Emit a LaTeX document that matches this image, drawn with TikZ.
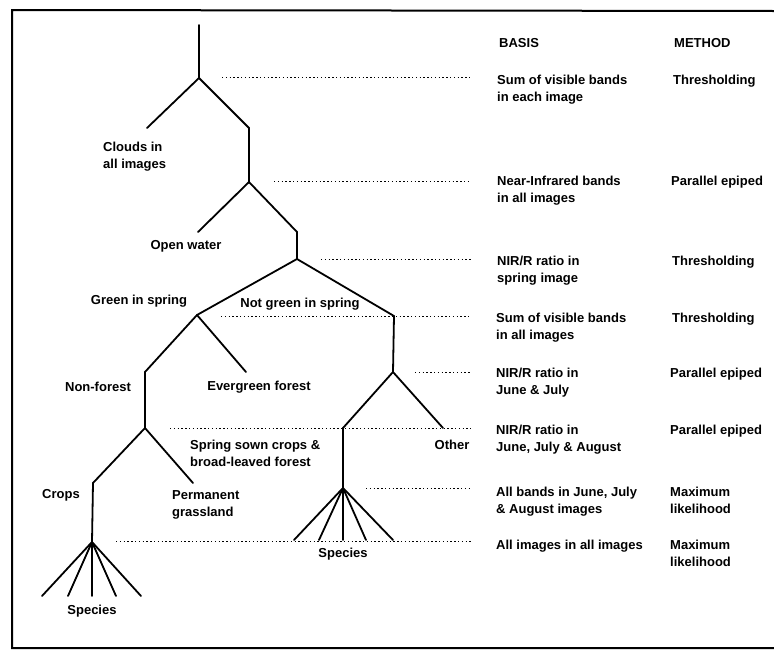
\documentclass[tikz,border=0pt]{standalone}
\usepackage{fontspec}
\setmainfont{Liberation Sans}

\begin{document}
\begin{tikzpicture}[x=1pt,y=-1pt,
    branch/.style={line width=1.8pt,line cap=round},
    guide/.style={line width=1pt,dash pattern=on 1.4pt off 2.4pt},
    lbl/.style={font=\fontsize{13}{17}\selectfont\bfseries,inner sep=0pt,align=left}]
    \useasboundingbox (0,0) rectangle (774,651);
    \draw[line width=2pt] (774,11) -- (12,10) -- (12,648) -- (774,648);

    % tree
    \coordinate (top) at (199,25);
    \coordinate (n1) at (199,78);
    \coordinate (clouds) at (147,128);
    \coordinate (n1r) at (249,128);
    \coordinate (n2) at (249,182);
    \coordinate (water) at (198,232);
    \coordinate (n2r) at (297,232);
    \coordinate (n3) at (297,259);
    \coordinate (green) at (197,315);
    \coordinate (notgreen) at (394,316);
    \coordinate (nonforest) at (145,372);
    \coordinate (evergreen) at (246,372);
    \coordinate (n6) at (145,428);
    \coordinate (n7) at (393,372);
    \coordinate (n8) at (343,428);
    \coordinate (other) at (443,428);
    \coordinate (crops) at (93,483);
    \coordinate (grass) at (193,483);
    \coordinate (fanl) at (92,542);
    \coordinate (fanr) at (343,488);

    \draw[branch] (top) -- (n1) -- (clouds);
    \draw[branch] (n1) -- (n1r) -- (n2) -- (water);
    \draw[branch] (n2) -- (n2r) -- (n3) -- (green);
    \draw[branch] (n3) -- (notgreen) -- (n7) -- (other);
    \draw[branch] (green) -- (evergreen);
    \draw[branch] (green) -- (nonforest) -- (n6) -- (grass);
    \draw[branch] (n6) -- (crops) -- (fanl);
    \draw[branch] (n7) -- (n8) -- (fanr);
    \foreach \x [count=\k] in {42,68,92,116,141} {
        \coordinate (sl\k) at (\x,596);
        \draw[branch] (fanl) -- (sl\k);
    }
    \foreach \x [count=\k] in {294,319,343,366,393} {
        \coordinate (sr\k) at (\x,540);
        \draw[branch] (fanr) -- (sr\k);
    }

    % dotted leaders
    \foreach \y/\xa [count=\k] in {77/222,181/274,259/321,316/221,372/415,428/170,488/366,541/116} {
        \coordinate (ga\k) at (\xa,\y);
        \coordinate (gb\k) at (471,\y);
        \draw[guide] (ga\k) -- (gb\k);
    }

    % class labels
    \node[lbl,anchor=north west] (lclouds) at (103,142) {Clouds in\\all images};
    \node[lbl] (lwater) at (186,246) {Open water};
    \node[lbl] (lgreen) at (139,301) {Green in spring};
    \node[lbl] (lnotgreen) at (300,304) {Not green in spring};
    \node[lbl] (lnonforest) at (98,387) {Non-forest};
    \node[lbl] (levergreen) at (259,387) {Evergreen forest};
    \node[lbl] (lother) at (452,445) {Other};
    \node[lbl,anchor=north west] (lspring) at (190,440) {Spring sown crops \&\\broad-leaved forest};
    \node[lbl] (lcrops) at (61,495) {Crops};
    \node[lbl,anchor=north west] (lgrass) at (172,490) {Permanent\\grassland};
    \node[lbl] (lspecl) at (92,611) {Species};
    \node[lbl] (lspecr) at (343,554) {Species};

    % basis and method columns
    \node[lbl,anchor=north west] (basis) at (499,38) {BASIS};
    \node[lbl,anchor=north west] (method) at (674,38) {METHOD};
    \node[lbl,anchor=north west] (b1) at (497,75) {Sum of visible bands\\in each image};
    \node[lbl,anchor=north west] (m1) at (673,75) {Thresholding};
    \node[lbl,anchor=north west] (b2) at (497,176) {Near-Infrared bands\\in all images};
    \node[lbl,anchor=north west] (m2) at (671,176) {Parallel epiped};
    \node[lbl,anchor=north west] (b3) at (497,256) {NIR/R ratio in\\spring image};
    \node[lbl,anchor=north west] (m3) at (672,256) {Thresholding};
    \node[lbl,anchor=north west] (b4) at (496,313) {Sum of visible bands\\in all images};
    \node[lbl,anchor=north west] (m4) at (672,313) {Thresholding};
    \node[lbl,anchor=north west] (b5) at (496,368) {NIR/R ratio in\\June \& July};
    \node[lbl,anchor=north west] (m5) at (670,368) {Parallel epiped};
    \node[lbl,anchor=north west] (b6) at (496,425) {NIR/R ratio in\\June, July \& August};
    \node[lbl,anchor=north west] (m6) at (670,425) {Parallel epiped};
    \node[lbl,anchor=north west] (b7) at (496,487) {All bands in June, July\\\& August images};
    \node[lbl,anchor=north west] (m7) at (670,487) {Maximum\\likelihood};
    \node[lbl,anchor=north west] (b8) at (496,540) {All images in all images};
    \node[lbl,anchor=north west] (m8) at (670,540) {Maximum\\likelihood};
\end{tikzpicture}
\end{document}
